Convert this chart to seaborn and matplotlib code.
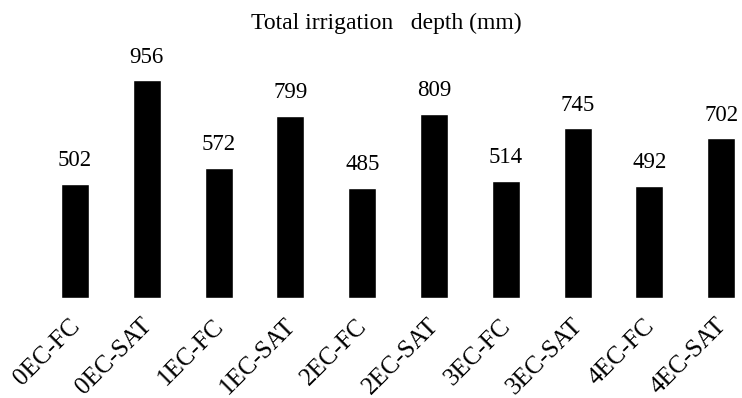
import matplotlib
matplotlib.use("Agg")
import matplotlib.pyplot as plt
import matplotlib.transforms as mtransforms
import seaborn as sns
import pandas as pd

# Treatments and their total irrigation depth (mm)
treatments = ["0EC-FC", "0EC-SAT", "1EC-FC", "1EC-SAT", "2EC-FC",
              "2EC-SAT", "3EC-FC", "3EC-SAT", "4EC-FC", "4EC-SAT"]
depth_mm = [502, 956, 572, 799, 485, 809, 514, 745, 492, 702]

df = pd.DataFrame({"treatment": treatments, "depth": depth_mm})

sns.set_style("white")
plt.rcParams["font.family"] = ["Liberation Serif", "DejaVu Serif"]

fig = plt.figure(figsize=(7.42, 3.98), dpi=100)
ax = fig.add_axes([0.0, 0.251, 1.0, 0.6015])

sns.barplot(data=df, x="treatment", y="depth", color="black",
            width=0.39, saturation=1, ax=ax)

for c in ax.containers:
    ax.bar_label(c, fmt="%d", padding=9, fontsize=16.5, color="black")

ax.set_ylim(0, 1050)
ax.set_xlim(-1.045, 9.29)
ax.set_xlabel("")
ax.set_ylabel("")
ax.set_yticks([])
for s in ax.spines.values():
    s.set_visible(False)

ax.tick_params(axis="x", length=0, pad=12, labelsize=18)
ax.set_xticks(range(len(treatments)))
ax.set_xticklabels(treatments, rotation=45, ha="right",
                   rotation_mode="anchor", color="black")
shift = mtransforms.ScaledTranslation(-6 / 100, 0, fig.dpi_scale_trans)
for lbl in ax.get_xticklabels():
    lbl.set_transform(lbl.get_transform() + shift)

fig.text(0.521, 0.94, "Total irrigation   depth (mm)", ha="center",
         va="center", fontsize=17, color="black")

fig.savefig("out.png", dpi=100, facecolor="white")
